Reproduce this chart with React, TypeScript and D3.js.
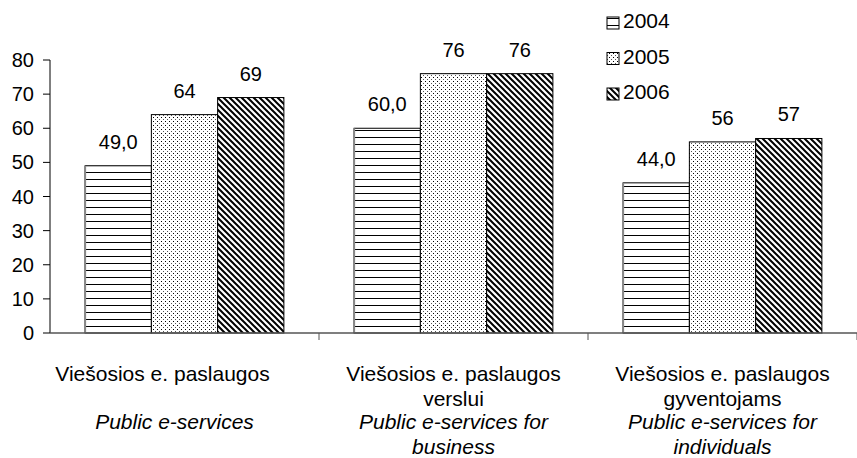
import React from "react";
import * as d3 from "d3";

const categories = ["g1", "g2", "g3"];
const categoryLines = [
  ["Viešosios e. paslaugos"],
  ["Viešosios e. paslaugos", "verslui"],
  ["Viešosios e. paslaugos", "gyventojams"],
];
const categoryLinesEn = [
  ["Public e-services"],
  ["Public e-services for", "business"],
  ["Public e-services for", "individuals"],
];
const seriesNames = ["2004", "2005", "2006"];
const values2004 = [49.0, 60.0, 44.0];
const values2005 = [64, 76, 56];
const values2006 = [69, 76, 57];
const labels2004 = ["49,0", "60,0", "44,0"];
const labels2005 = ["64", "76", "56"];
const labels2006 = ["69", "76", "57"];
const yTicks = [0, 10, 20, 30, 40, 50, 60, 70, 80];

export default function App() {
  const W = 857, H = 458;
  const x0 = 50, x1 = 857, yTop = 60, yBot = 333;
  const y = d3.scaleLinear().domain([0, 80]).range([yBot, yTop]);
  const xBand = d3.scaleBand().domain(categories).range([x0, x1]).paddingInner(0).paddingOuter(0);
  const inner = d3.scaleBand().domain(seriesNames).range([0, xBand.bandwidth()]).paddingOuter(0.53).paddingInner(0);
  const series = [values2004, values2005, values2006];
  const labels = [labels2004, labels2005, labels2006];
  const fills = ["url(#pH)", "url(#pD)", "url(#pS)"];
  const font = "Liberation Sans, Arial, sans-serif";
  const lithDx = [-22, 0, 0];
  const enDx = [-10, 0, 0];
  return (
    <svg width={W} height={H} style={{ position: "absolute", left: 0, top: 0 }} fontFamily={font}>
      <defs>
        <pattern id="pH" width="8" height="7" patternUnits="userSpaceOnUse" y={yBot}>
          <rect width="8" height="7" fill="#fff" />
          <line x1="0" x2="8" y1="0.5" y2="0.5" stroke="#000" strokeWidth="1" />
        </pattern>
        <pattern id="pD" width="4" height="4" patternUnits="userSpaceOnUse">
          <rect width="4" height="4" fill="#fff" />
          <rect x="1" y="1" width="1" height="1" fill="#000" />
          <rect x="3" y="3" width="1" height="1" fill="#555" />
        </pattern>
        <pattern id="pS" width="6" height="6" patternUnits="userSpaceOnUse">
          <rect width="6" height="6" fill="#fff" />
          <path d="M-1,-1 L7,7 M-1,5 L1,7 M5,-1 L7,1" stroke="#000" strokeWidth="2" />
        </pattern>
      </defs>
      {categories.map((c, ci) =>
        series.map((s, si) => {
          const bx = (xBand(c) as number) + (inner(seriesNames[si]) as number);
          const bw = inner.bandwidth();
          return (
            <g key={c + si}>
              <rect x={bx} y={y(s[ci])} width={bw} height={yBot - y(s[ci])} fill={fills[si]} stroke="#000" strokeWidth={1} />
              {si === 0 && <line x1={bx} x2={bx} y1={y(s[ci])} y2={yBot} stroke="#888" strokeWidth={2} />}
              <text x={bx + bw / 2} y={y(s[ci]) - 17} textAnchor="middle" fontSize={20}>{labels[si][ci]}</text>
            </g>
          );
        })
      )}
      <line x1={x0} x2={x0} y1={yTop} y2={yBot} stroke="#000" />
      <line x1={x0} x2={x1} y1={yBot} y2={yBot} stroke="#555" strokeWidth={1.5} />
      {yTicks.map((t) => (
        <g key={t}>
          <line x1={x0 - 7} x2={x0} y1={y(t)} y2={y(t)} stroke="#000" />
          <text x={34} y={y(t) + 7} textAnchor="end" fontSize={20}>{t}</text>
        </g>
      ))}
      {categories.map((c) => (
        <line key={c} x1={(xBand(c) as number) + xBand.bandwidth()} x2={(xBand(c) as number) + xBand.bandwidth()} y1={yBot} y2={yBot + 7} stroke="#555" />
      ))}
      {categories.map((c, ci) => {
        const cx = (xBand(c) as number) + xBand.bandwidth() / 2;
        return (
          <g key={c}>
            {categoryLines[ci].map((l, li) => (
              <text key={li} x={cx + lithDx[ci]} y={381 + li * 25} textAnchor="middle" fontSize={21}>{l}</text>
            ))}
            {categoryLinesEn[ci].map((l, li) => (
              <text key={li} x={cx + enDx[ci]} y={429 + li * 25} textAnchor="middle" fontSize={21} fontStyle="italic">{l}</text>
            ))}
          </g>
        );
      })}
      {seriesNames.map((s, si) => (
        <g key={s}>
          <rect x={607} y={17 + si * 35.5} width={12} height={12} fill={fills[si]} stroke="#000" />
          <text x={623} y={28 + si * 35.5} fontSize={21}>{s}</text>
        </g>
      ))}
    </svg>
  );
}
